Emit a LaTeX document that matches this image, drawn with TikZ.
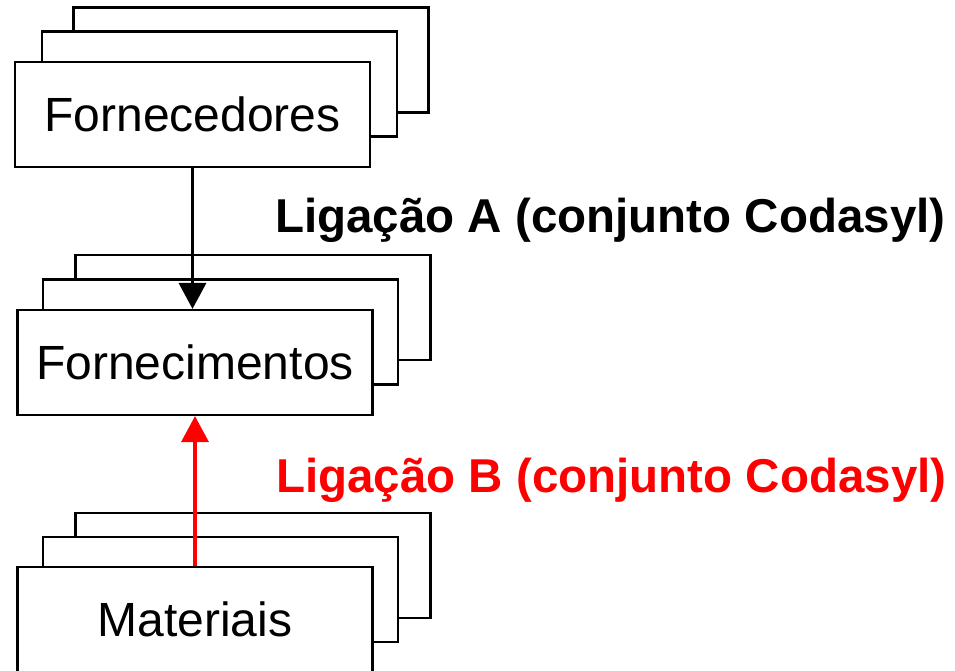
\documentclass[tikz,border=0pt]{standalone}
\usepackage{fontspec}
\setmainfont{Liberation Sans}
\usetikzlibrary{arrows.meta}
\definecolor{linkred}{RGB}{255,0,0}
\begin{document}
\begin{tikzpicture}[x=1pt,y=-1pt,
  recbox/.style={draw=black, fill=white, line width=2.2pt, rectangle, inner sep=0pt,
    minimum width=355pt, minimum height=105pt, font=\fontsize{48}{56}\selectfont},
  linkarrow/.style={line width=3.5pt, -{Triangle[width=27pt,length=26pt]}},
  linklabel/.style={anchor=base west, inner sep=0pt, font=\fontsize{47.5}{56}\selectfont\bfseries}]
\useasboundingbox (0,0) rectangle (955,670);
% Fornecedores stack
\node[recbox] (fornBack) at (251,60) {};
\node[recbox] (fornMid) at (219.5,84) {};
\node[recbox] (fornecedores) at (192.5,114.5) {Fornecedores};
% Fornecimentos stack
\node[recbox] (fnmBack) at (253,307.5) {};
\node[recbox] (fnmMid) at (220.5,332) {};
\node[recbox] (fornecimentos) at (195,362.5) {Fornecimentos};
% Materiais stack
\node[recbox] (matBack) at (253,565.5) {};
\node[recbox] (matMid) at (220.5,589.5) {};
\node[recbox] (materiais) at (195,619.5) {Materiais};
% connectors
\draw[linkarrow, black] (fornecedores.south) -- (fornecedores.south |- fornecimentos.north);
\draw[linkarrow, linkred] (materiais.north) -- (fornecimentos.south);
% labels
\node[linklabel, text=black] (labelA) at (275,232) {Ligação A (conjunto Codasyl)};
\node[linklabel, text=linkred] (labelB) at (276,492) {Ligação B (conjunto Codasyl)};
\end{tikzpicture}
\end{document}
